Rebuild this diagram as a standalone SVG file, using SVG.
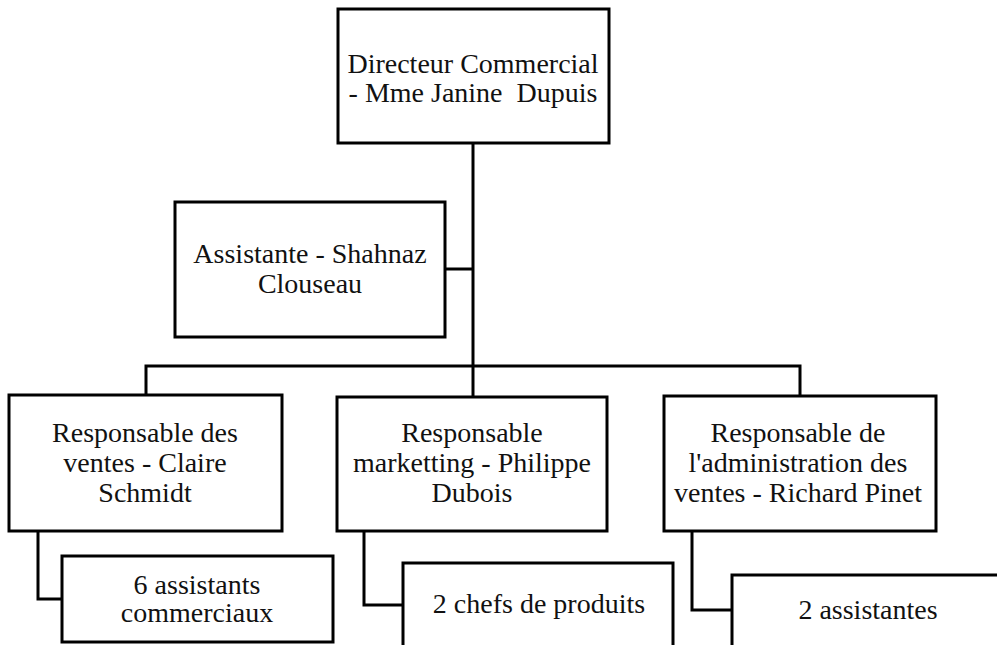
<svg xmlns="http://www.w3.org/2000/svg" width="997" height="645" viewBox="0 0 997 645">
<style>
.box{fill:#fff;stroke:#000;stroke-width:3}
.ln{fill:none;stroke:#000;stroke-width:3}
text{font-family:"Liberation Serif","Times New Roman",serif;font-size:28px;fill:#111;text-anchor:middle}
</style>
<rect width="997" height="645" fill="#fff"/>
<g id="connectors">
<path class="ln" d="M473,143 V397"/>
<path class="ln" d="M445,269 H473"/>
<path class="ln" d="M146,395 V366 H800 V396"/>
<path class="ln" d="M38,531 V599 H62"/>
<path class="ln" d="M364,531 V605 H403"/>
<path class="ln" d="M692,531 V610 H732"/>
</g>
<g id="directeur">
<rect class="box" x="338" y="9" width="271" height="134"/>
<text x="473" y="73">Directeur Commercial</text>
<text x="473" y="102" xml:space="preserve">- Mme Janine  Dupuis</text>
</g>
<g id="assistante">
<rect class="box" x="175" y="202" width="270" height="135"/>
<text x="310" y="263">Assistante - Shahnaz</text>
<text x="310" y="293">Clouseau</text>
</g>
<g id="ventes">
<rect class="box" x="9" y="395" width="273" height="136"/>
<text x="145" y="442">Responsable des</text>
<text x="145" y="472">ventes - Claire</text>
<text x="145" y="502">Schmidt</text>
</g>
<g id="marketing">
<rect class="box" x="337" y="397" width="270" height="134"/>
<text x="472" y="442">Responsable</text>
<text x="472" y="472">marketting - Philippe</text>
<text x="472" y="502">Dubois</text>
</g>
<g id="administration">
<rect class="box" x="664" y="396" width="272" height="135"/>
<text x="798" y="442">Responsable de</text>
<text x="798" y="472">l'administration des</text>
<text x="798" y="502">ventes - Richard Pinet</text>
</g>
<g id="assistants-commerciaux">
<rect class="box" x="62" y="556" width="271" height="86"/>
<text x="197" y="594">6 assistants</text>
<text x="197" y="622">commerciaux</text>
</g>
<g id="chefs-produits">
<rect class="box" x="403" y="563" width="270" height="100"/>
<text x="539" y="613">2 chefs de produits</text>
</g>
<g id="assistantes">
<rect class="box" x="732" y="575" width="280" height="90"/>
<text x="868" y="619">2 assistantes</text>
</g>
</svg>
